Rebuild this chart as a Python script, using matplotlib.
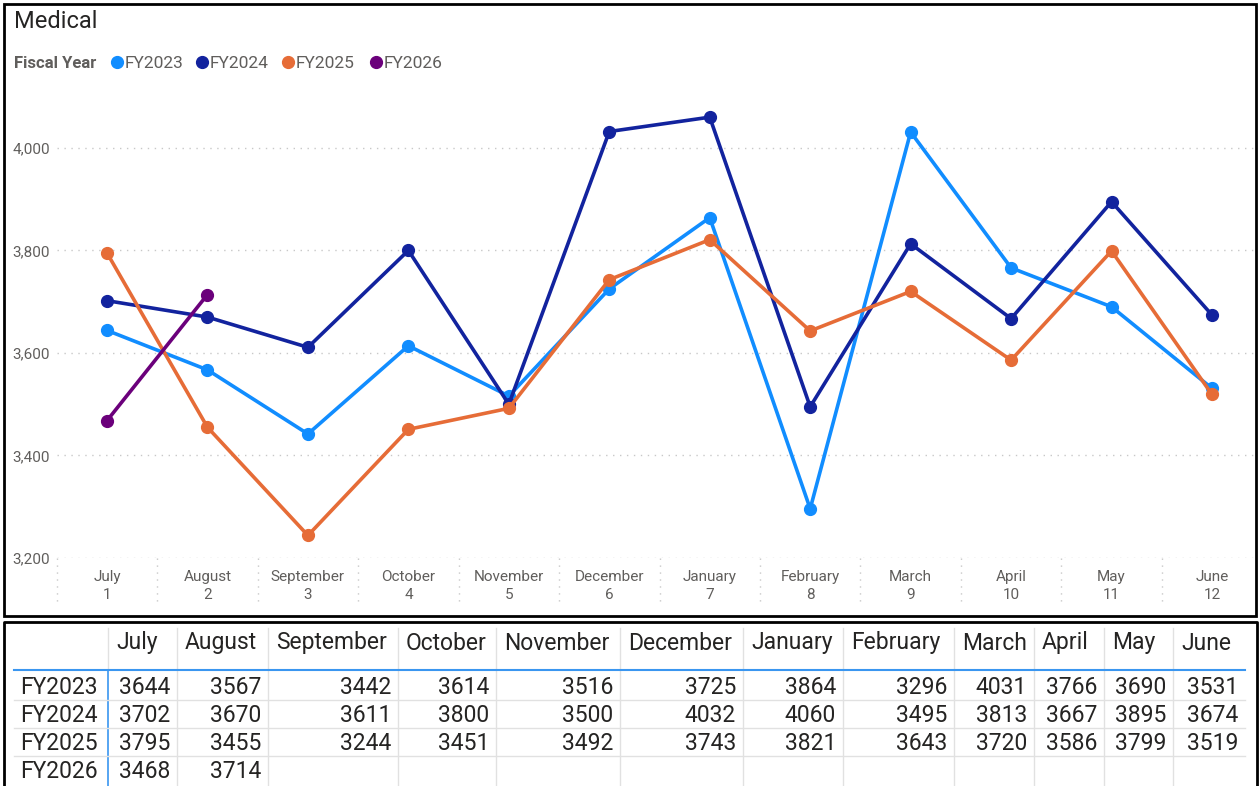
import matplotlib
matplotlib.use('Agg')
import matplotlib.pyplot as plt
from matplotlib.lines import Line2D
from matplotlib.patches import Rectangle
import numpy as np

plt.rcParams['font.family'] = ['Roboto', 'DejaVu Sans']

months = ['July', 'August', 'September', 'October', 'November', 'December',
          'January', 'February', 'March', 'April', 'May', 'June']
month_num = list(range(1, 13))
years = ['FY2023', 'FY2024', 'FY2025', 'FY2026']
fy2023 = [3644, 3567, 3442, 3614, 3516, 3725, 3864, 3296, 4031, 3766, 3690, 3531]
fy2024 = [3702, 3670, 3611, 3800, 3500, 4032, 4060, 3495, 3813, 3667, 3895, 3674]
fy2025 = [3795, 3455, 3244, 3451, 3492, 3743, 3821, 3643, 3720, 3586, 3799, 3519]
fy2026 = [3468, 3714]
series = [fy2023, fy2024, fy2025, fy2026]
colors = ['#118DFF', '#12239E', '#E66C37', '#6B007B']

W, H = 1260, 786
fig = plt.figure(figsize=(W / 100, H / 100), dpi=100)

def fx(px):
    return px / W

def fy(py):
    return 1 - py / H

txt_gray = '#605E5C'

# ---- chart panel ----
ax = fig.add_axes([fx(57), fy(558), fx(1255) - fx(57), fy(90) - fy(558)])
for vals, c in zip(series, colors):
    ax.plot(month_num[:len(vals)], vals, color=c, lw=2.6, marker='o', ms=8.5,
            solid_capstyle='round', zorder=3)

ax.set_xlim(0.502, 12.428)
ax.set_ylim(3200, 4113)
ax.set_yticks([3200, 3400, 3600, 3800, 4000])
ax.set_yticklabels(['{:,}'.format(v) for v in [3200, 3400, 3600, 3800, 4000]],
                   color=txt_gray, fontsize=11)
ax.tick_params(axis='y', length=0, pad=5)
ax.set_xticks([])
for s in ax.spines.values():
    s.set_visible(False)
ax.grid(axis='y', color='#C8C8C8', linestyle=(0, (1, 4)), lw=1)

# x category labels and dotted separators
xt = ax.get_xaxis_transform()
for i, (m, n) in enumerate(zip(months, month_num)):
    ax.text(n, -0.041, m, transform=xt, ha='center', va='center', color=txt_gray, fontsize=11)
    ax.text(n, -0.078, str(n), transform=xt, ha='center', va='center', color=txt_gray, fontsize=11)
    ax.plot([n - 0.5, n - 0.5], [0, -0.1], transform=xt, color='#C8C8C8',
            linestyle=(0, (1, 4)), lw=1, clip_on=False)

# title and legend
fig.text(fx(14), fy(21), 'Medical', fontsize=17, color='#252423', va='center', ha='left')
fig.text(fx(14), fy(63), 'Fiscal Year', fontsize=12, fontweight='bold', color='#605E5C',
         va='center', ha='left')
leg_x = [117, 202, 288, 376]
for lx, lab, c in zip(leg_x, years, colors):
    fig.add_artist(Line2D([fx(lx)], [fy(62)], marker='o', ms=8.5, color=c, lw=0,
                          transform=fig.transFigure))
    fig.text(fx(lx + 8), fy(63), lab, fontsize=12.5, color='#605E5C', va='center', ha='left')

fig.add_artist(Rectangle((fx(4), fy(616)), fx(1256) - fx(4), fy(4) - fy(616),
                         transform=fig.transFigure, fill=False, ec='black', lw=2))

# ---- table panel ----
fig.add_artist(Line2D([fx(4), fx(4), fx(1257), fx(1257)], [fy(790), fy(622), fy(622), fy(790)],
                      transform=fig.transFigure, color='black', lw=2))

col_edges = [14, 108, 177, 268, 398, 496, 620, 743, 843, 954, 1034, 1104, 1173, 1245]
head_y = 643
row_y = [687, 715, 743, 771]
tfs = 16.5

for i, m in enumerate(months):
    fig.text(fx(col_edges[i + 1] + 8), fy(head_y), m, fontsize=tfs, color='#252423',
             va='center', ha='left')
for r, (lab, vals) in enumerate(zip(years, series)):
    fig.text(fx(20), fy(row_y[r]), lab, fontsize=tfs, color='#252423', va='center', ha='left')
    for i, v in enumerate(vals):
        fig.text(fx(col_edges[i + 2] - 7), fy(row_y[r]), str(v), fontsize=tfs, color='#252423',
                 va='center', ha='right')

# grid lines
for e in col_edges[2:-1]:
    fig.add_artist(Line2D([fx(e), fx(e)], [fy(628), fy(786)], transform=fig.transFigure,
                          color='#E1E1E1', lw=1))
fig.add_artist(Line2D([fx(108), fx(108)], [fy(628), fy(670)], transform=fig.transFigure,
                      color='#E1E1E1', lw=1))
fig.add_artist(Line2D([fx(108), fx(108)], [fy(670), fy(786)], transform=fig.transFigure,
                      color='#3A96F0', lw=1.2))
for ly in [700, 728, 756]:
    fig.add_artist(Line2D([fx(14), fx(1245)], [fy(ly), fy(ly)], transform=fig.transFigure,
                          color='#E1E1E1', lw=1))
fig.add_artist(Line2D([fx(14), fx(1245)], [fy(670), fy(670)], transform=fig.transFigure,
                      color='#3A96F0', lw=1.5))

fig.savefig('out.png', dpi=100)
